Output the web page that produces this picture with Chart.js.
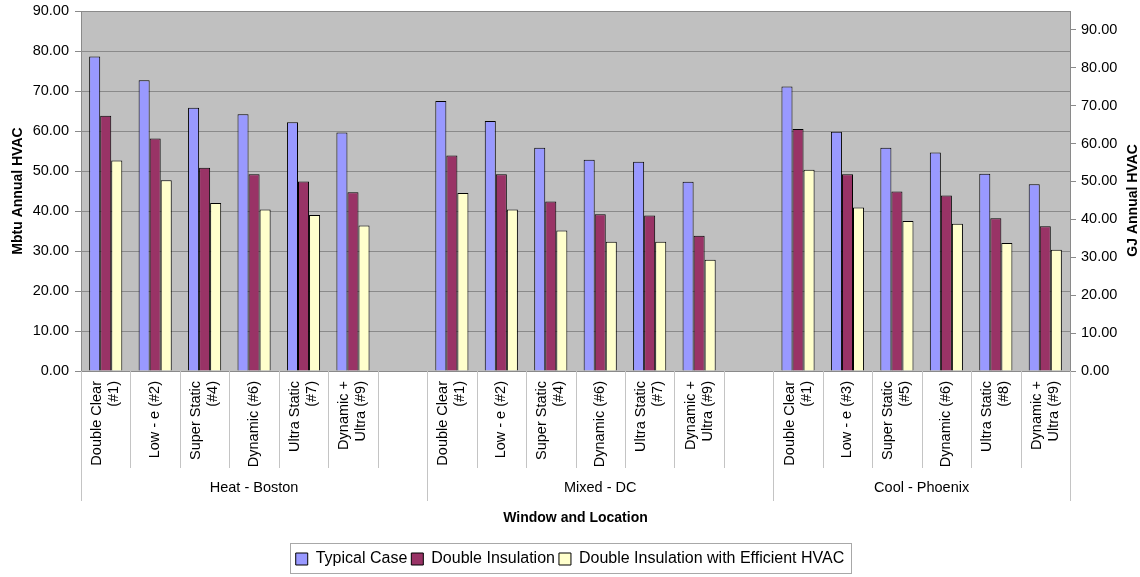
<!DOCTYPE html>
<html>
<head>
<meta charset="utf-8">
<script src="https://cdn.jsdelivr.net/npm/chart.js@4.4.1/dist/chart.umd.min.js"></script>
<style>
  html, body { margin: 0; padding: 0; background: #fff; }
  #wrap { width: 1140px; height: 577px; position: relative; }
</style>
</head>
<body>
<div id="wrap"><canvas id="c"></canvas></div>
<script>
// ---------- data ----------
const categories = [
  ['Double Clear', '(#1)'], ['Low - e (#2)'], ['Super Static', '(#4)'], ['Dynamic (#6)'], ['Ultra Static', '(#7)'], ['Dynamic +', 'Ultra (#9)'], [''],
  ['Double Clear', '(#1)'], ['Low - e (#2)'], ['Super Static', '(#4)'], ['Dynamic (#6)'], ['Ultra Static', '(#7)'], ['Dynamic +', 'Ultra (#9)'], [''],
  ['Double Clear', '(#1)'], ['Low - e (#3)'], ['Super Static', '(#5)'], ['Dynamic (#6)'], ['Ultra Static', '(#8)'], ['Dynamic +', 'Ultra (#9)']
];
const groupNames = ['Heat - Boston', 'Mixed - DC', 'Cool - Phoenix'];
const groupStarts = [0, 7, 14];
const groupSizes = [7, 7, 6];

const seriesNames = ['Typical Case', 'Double Insulation', 'Double Insulation with Efficient HVAC'];
const typicalCase = [78.6, 72.7, 65.8, 64.2, 62.2, 59.6, null, 67.5, 62.5, 55.8, 52.8, 52.3, 47.3, null, 71.1, 59.8, 55.8, 54.6, 49.3, 46.7];
const doubleInsulation = [63.8, 58.1, 50.8, 49.2, 47.4, 44.7, null, 53.9, 49.2, 42.4, 39.2, 38.9, 33.8, null, 60.5, 49.2, 44.9, 43.9, 38.2, 36.2];
const doubleInsulationEff = [52.6, 47.7, 42.0, 40.4, 39.0, 36.4, null, 44.5, 40.4, 35.1, 32.3, 32.3, 27.8, null, 50.3, 40.9, 37.5, 36.8, 32.0, 30.3];

const leftMax = 90;
const tickStep = 10;
const mbtuToGJ = 1.055;

const yTitle = 'Mbtu Annual HVAC';
const y2Title = 'GJ Annual HVAC';
const xTitle = 'Window and Location';

// ---------- styling ----------
const FONT = "'Liberation Sans', Arial, sans-serif";
Chart.defaults.font.family = FONT;
Chart.defaults.color = '#000';
const gridColor = '#8a8a8a';
const sepColor = '#c4c4c4';

const plotBg = {
  id: 'plotBg',
  beforeDraw(chart) {
    const {ctx, chartArea: a} = chart;
    ctx.save();
    ctx.fillStyle = '#c0c0c0';
    ctx.fillRect(a.left, a.top, a.right - a.left, a.bottom - a.top);
    ctx.restore();
  }
};

const axisDecor = {
  id: 'axisDecor',
  afterDraw(chart) {
    const {ctx, chartArea: a} = chart;
    const xs = chart.scales.x;
    const n = categories.length;
    const slot = (xs.right - xs.left) / n;
    const axisY = a.bottom;
    ctx.save();
    // separator lines
    ctx.strokeStyle = sepColor;
    ctx.lineWidth = 1;
    const groupBounds = new Set();
    groupStarts.forEach((s, i) => { groupBounds.add(s); groupBounds.add(s + groupSizes[i]); });
    for (let k = 0; k <= n; k++) {
      const x = Math.round(xs.getPixelForValue(k) - slot / 2) + 0.5;
      const len = groupBounds.has(k) ? 130 : 97;
      ctx.beginPath();
      ctx.moveTo(x, axisY);
      ctx.lineTo(x, axisY + len);
      ctx.stroke();
    }
    // category labels (rotated)
    ctx.fillStyle = '#000';
    ctx.font = '14.5px ' + FONT;
    ctx.textAlign = 'right';
    ctx.textBaseline = 'middle';
    const lh = 17;
    categories.forEach((lines, i) => {
      const cx = xs.getPixelForValue(i);
      lines.forEach((t, j) => {
        if (!t) return;
        const off = (j - (lines.length - 1) / 2) * lh;
        ctx.save();
        ctx.translate(cx + off, axisY + 10);
        ctx.rotate(-Math.PI / 2);
        ctx.fillText(t, 0, 0);
        ctx.restore();
      });
    });
    // group labels
    ctx.textAlign = 'center';
    ctx.font = '14.5px ' + FONT;
    groupNames.forEach((g, i) => {
      const s = groupStarts[i], e = s + groupSizes[i] - 1;
      const cx = (xs.getPixelForValue(s) + xs.getPixelForValue(e)) / 2;
      ctx.fillText(g, cx, axisY + 117);
    });
    // right axis title (reads bottom to top)
    const y2 = chart.scales.y2;
    ctx.font = 'bold 14px ' + FONT;
    ctx.save();
    ctx.translate(1133, (y2.getPixelForValue(0) + y2.getPixelForValue(leftMax)) / 2);
    ctx.rotate(-Math.PI / 2);
    ctx.fillText(y2Title, 0, 0);
    ctx.restore();
    // legend frame
    const lg = chart.legend;
    if (lg && lg.legendHitBoxes && lg.legendHitBoxes.length) {
      let x0 = Infinity, x1 = -Infinity, y0 = Infinity, y1 = -Infinity;
      lg.legendHitBoxes.forEach(b => {
        x0 = Math.min(x0, b.left); x1 = Math.max(x1, b.left + b.width);
        y0 = Math.min(y0, b.top); y1 = Math.max(y1, b.top + b.height);
      });
      ctx.strokeStyle = '#a8a8a8';
      ctx.strokeRect(Math.round(x0 - 6) + 0.5, Math.round(y0 - 8) + 0.5, Math.round(x1 - x0 + 12), Math.round(y1 - y0 + 14));
    }
    ctx.restore();
  }
};

const mkDs = (label, data, color) => ({
  label, data,
  backgroundColor: color,
  borderColor: '#000',
  borderWidth: 1,
  borderSkipped: 'bottom',
  yAxisID: 'y',
  categoryPercentage: 0.67,
  barPercentage: 1.0
});

new Chart(document.getElementById('c'), {
  type: 'bar',
  data: {
    labels: categories,
    datasets: [
      mkDs(seriesNames[0], typicalCase, '#9999ff'),
      mkDs(seriesNames[1], doubleInsulation, '#993366'),
      mkDs(seriesNames[2], doubleInsulationEff, '#ffffcc')
    ]
  },
  options: {
    responsive: true,
    maintainAspectRatio: false,
    animation: false,
    layout: { padding: { top: 11, left: 0, right: 0, bottom: 0 } },
    plugins: {
      tooltip: { enabled: false },
      legend: {
        position: 'bottom',
        labels: {
          font: { size: 16, family: FONT },
          color: '#000',
          boxWidth: 12,
          boxHeight: 12,
          padding: 4
        }
      }
    },
    scales: {
      x: {
        ticks: { display: false },
        grid: { display: false },
        border: { display: true, color: gridColor },
        title: {
          display: true,
          text: xTitle,
          font: { size: 14, weight: 'bold', family: FONT },
          padding: { top: 0, bottom: 20 }
        },
        afterFit(scale) { scale.height = 176; }
      },
      y: {
        position: 'left',
        min: 0,
        max: leftMax,
        ticks: {
          stepSize: tickStep,
          font: { size: 14.5, family: FONT },
          padding: 6,
          callback: v => Number(v).toFixed(2)
        },
        grid: { color: gridColor, tickLength: 6, drawTicks: true },
        border: { display: true, color: gridColor },
        title: {
          display: true,
          text: yTitle,
          font: { size: 14, weight: 'bold', family: FONT },
          padding: { top: 10, bottom: 0 }
        },
        afterFit(scale) { scale.width = 81; scale.paddingTop = 0; scale.paddingBottom = 0; }
      },
      y2: {
        position: 'right',
        min: 0,
        max: leftMax * mbtuToGJ,
        ticks: {
          stepSize: tickStep,
          includeBounds: false,
          font: { size: 14.5, family: FONT },
          padding: 5,
          callback: v => Number(v).toFixed(2)
        },
        grid: { drawOnChartArea: false, color: gridColor, tickLength: 6, drawTicks: true },
        border: { display: true, color: gridColor },
        afterFit(scale) { scale.width = 70; scale.paddingTop = 0; scale.paddingBottom = 0; }
      }
    }
  },
  plugins: [plotBg, axisDecor]
});
</script>
</body>
</html>
